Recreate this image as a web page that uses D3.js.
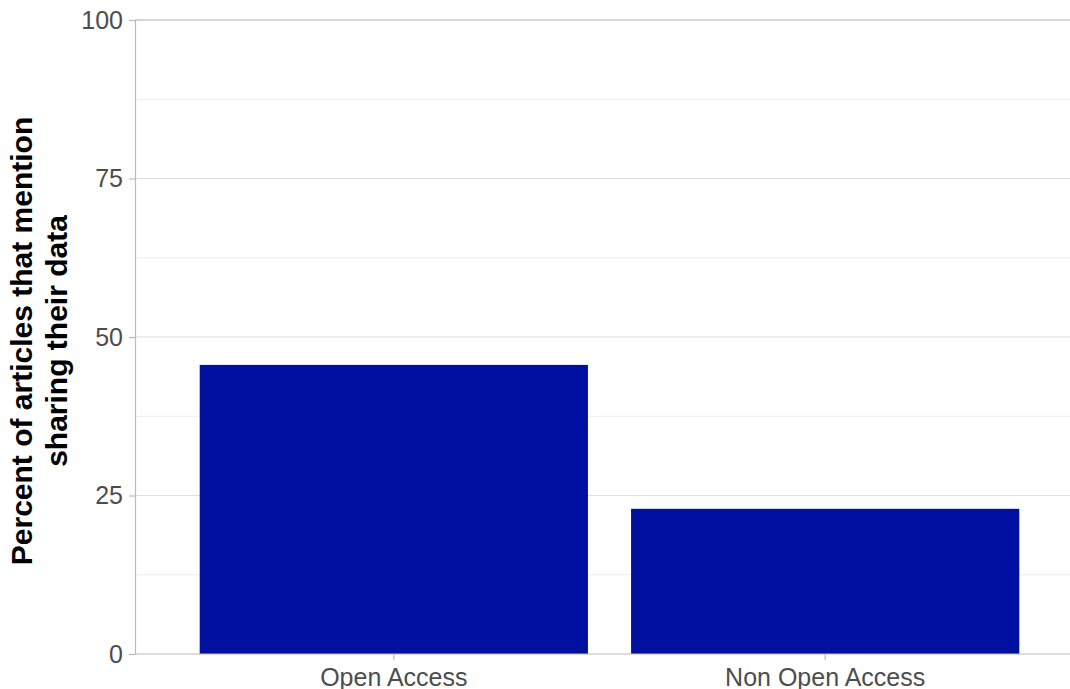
<!DOCTYPE html>
<html>
<head>
<meta charset="utf-8">
<script src="https://cdn.jsdelivr.net/npm/d3@7"></script>
<style>
  body { margin: 0; background: #fff; }
  svg { display: block; font-family: "Liberation Sans", Arial, sans-serif; }
</style>
</head>
<body>
<div id="chart"></div>
<script>
// data
const categories = ["Open Access", "Non Open Access"];
const percents = [45.6, 22.9];
const yTicks = [0, 25, 50, 75, 100];
const yMinorTicks = [12.5, 37.5, 62.5, 87.5];

let width = 1070, height = 689;
let margin = {left: 135, top: 20, bottom: 35};

let svg = d3.select("#chart")
    .append("svg")
    .attr("width", width)
    .attr("height", height);

let x = d3.scaleBand()
    .domain(categories)
    .range([margin.left, 1084])
    .paddingInner(0.1)
    .paddingOuter(0.15);

let y = d3.scaleLinear()
    .domain([0, 100])
    .range([height - margin.bottom, margin.top]);

// grid
svg.append("g")
    .selectAll("line")
    .data(yMinorTicks)
    .join("line")
    .attr("x1", margin.left)
    .attr("x2", width)
    .attr("y1", d => y(d))
    .attr("y2", d => y(d))
    .attr("stroke", "#ececec")
    .attr("stroke-width", 1);

svg.append("g")
    .selectAll("line")
    .data(yTicks.filter(d => d > 0))
    .join("line")
    .attr("x1", margin.left)
    .attr("x2", width)
    .attr("y1", d => y(d))
    .attr("y2", d => y(d))
    .attr("stroke", d => d === 100 ? "#c8c8c8" : "#dedede")
    .attr("stroke-width", d => d === 100 ? 1.5 : 1);

// bars
svg.append("g")
    .selectAll("rect")
    .data(percents)
    .join("rect")
    .attr("x", (d, i) => x(categories[i]))
    .attr("y", d => y(d))
    .attr("width", x.bandwidth())
    .attr("height", d => y(0) - y(d))
    .attr("fill", "#0010a0");

// axes
let yAxis = svg.append("g")
    .attr("transform", "translate(" + margin.left + ",0)")
    .call(d3.axisLeft(y).tickValues(yTicks).tickSize(6).tickPadding(6));

let xAxis = svg.append("g")
    .attr("transform", "translate(0," + y(0) + ")")
    .call(d3.axisBottom(x).tickSize(6).tickPadding(8));

[yAxis, xAxis].forEach(a => {
    a.attr("font-size", null);
    a.select(".domain").attr("stroke", "#bbbbbb").attr("stroke-width", 1.2);
    a.selectAll(".tick line").attr("stroke", "#bbbbbb").attr("stroke-width", 1.2);
    a.selectAll(".tick text")
        .style("font-size", "25px")
        .attr("fill", "#4d4d4d")
        .attr("font-family", "Liberation Sans, Arial, sans-serif");
});
xAxis.select(".domain").attr("d", "M" + margin.left + ",0H" + width);

// y title
let cy = (y(0) + y(100)) / 2 + 4;
let title = svg.append("text")
    .attr("transform", "translate(32," + cy + ") rotate(-90)")
    .attr("text-anchor", "middle")
    .style("font-size", "30px")
    .attr("font-weight", "bold")
    .attr("fill", "#000");
title.append("tspan").attr("x", 0).attr("dy", 0).text("Percent of articles that mention");
title.append("tspan").attr("x", 0).attr("dy", 35).text("sharing their data");
</script>
</body>
</html>
